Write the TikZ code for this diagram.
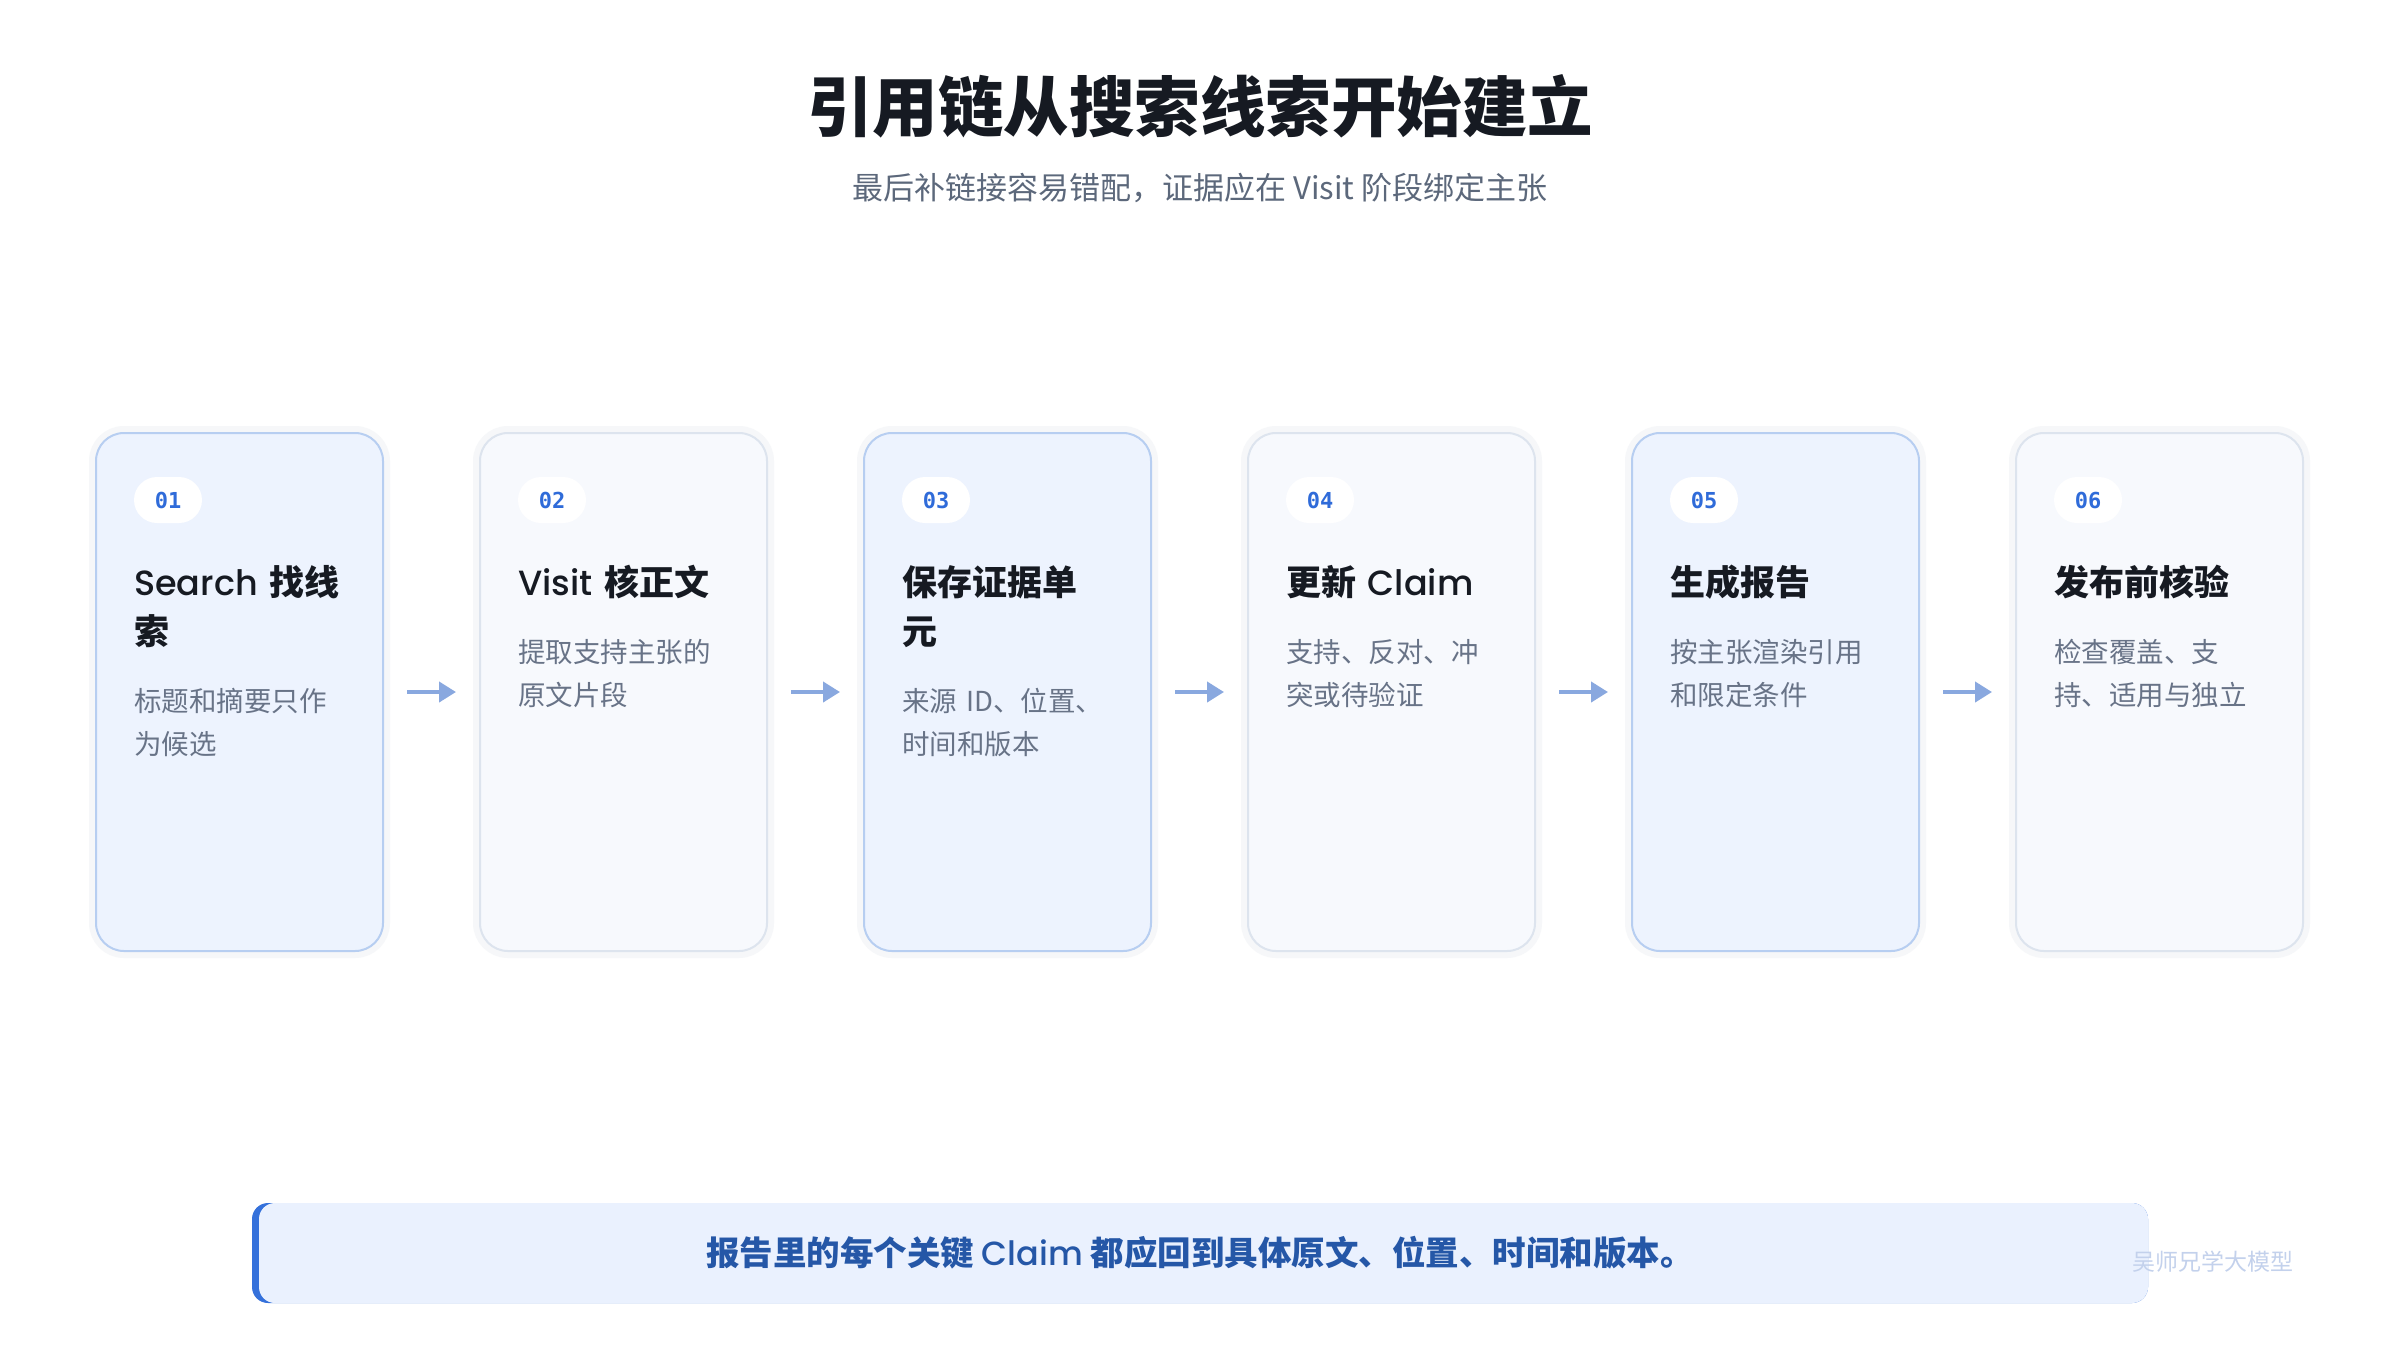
\documentclass[tikz,border=0pt]{standalone}
\usepackage{fontspec}
\setmainfont{Noto Sans CJK SC}
\newfontfamily\poppins{Poppins}[BoldFont={Poppins Medium}]
\newfontfamily\monofont{DejaVu Sans Mono}
\usetikzlibrary{arrows.meta}

\definecolor{ink}{HTML}{161A22}
\definecolor{subgray}{HTML}{5C687B}
\definecolor{descgray}{HTML}{687387}
\definecolor{numblue}{HTML}{2F6BD9}
\definecolor{hifill}{HTML}{EDF3FE}
\definecolor{hiline}{HTML}{B7CEF1}
\definecolor{cardfill}{HTML}{F7F9FD}
\definecolor{cardline}{HTML}{DDE4EE}
\definecolor{halo}{HTML}{F6F7F9}
\definecolor{arrowblue}{HTML}{89A8DF}
\definecolor{barblue}{HTML}{3571DB}
\definecolor{bannerfill}{HTML}{EAF1FE}
\definecolor{notetext}{HTML}{2557A7}
\definecolor{wmgray}{HTML}{C3D1EC}

\tikzset{
  card/.style={draw=cardline, line width=2pt, fill=cardfill, rounded corners=28pt,
    minimum width=287pt, minimum height=518pt, inner sep=0pt,
    preaction={draw=halo, line width=14pt}},
  hicard/.style={card, draw=hiline, fill=hifill},
  badge/.style={fill=white, rounded corners=23pt, minimum width=68pt, minimum height=46pt,
    inner sep=0pt, text=numblue, font=\monofont\bfseries\fontsize{22}{22}\selectfont},
  head/.style={anchor=base west, inner sep=0pt, align=left, text width=220pt, text=ink,
    font=\bfseries\fontsize{35}{49}\selectfont},
  desc/.style={anchor=base west, inner sep=0pt, align=left, text width=220pt, text=descgray,
    font=\fontsize{27.5}{43}\selectfont},
  flow/.style={draw=arrowblue, line width=4pt, -{Triangle[length=17pt,width=20pt]},
    shorten <=23pt, shorten >=23pt},
}

\begin{document}
\begin{tikzpicture}[x=1pt,y=-1pt]
\useasboundingbox (0,0) rectangle (2400,1350);
\fill[white] (0,0) rectangle (2400,1350);

% title
\node[anchor=base, inner sep=0pt, text=ink, font=\bfseries\fontsize{65.5}{65.5}\selectfont] (title) at (1200,131) {引用链从搜索线索开始建立};
\node[anchor=base, inner sep=0pt, text=subgray, font=\fontsize{31}{31}\selectfont] (subtitle) at (1200,199) {最后补链接容易错配，证据应在 Visit 阶段绑定主张};

% cards
\node[hicard] (c1) at (239.5,692) {};
\node[card]   (c2) at (623.5,692) {};
\node[hicard] (c3) at (1007.5,692) {};
\node[card]   (c4) at (1391.5,692) {};
\node[hicard] (c5) at (1775.5,692) {};
\node[card]   (c6) at (2159.5,692) {};

\node[badge] (n1) at (168,500) {01};
\node[badge] (n2) at (552,500) {02};
\node[badge] (n3) at (936,500) {03};
\node[badge] (n4) at (1320,500) {04};
\node[badge] (n5) at (1704,500) {05};
\node[badge] (n6) at (2088,500) {06};

\node[head] (h1) at (134,595) {{\poppins Search} 找线\\索};
\node[head] (h2) at (518,595) {{\poppins Visit} 核正文};
\node[head] (h3) at (902,595) {保存证据单\\元};
\node[head] (h4) at (1286,595) {更新 {\poppins Claim}};
\node[head] (h5) at (1670,595) {生成报告};
\node[head] (h6) at (2054,595) {发布前核验};

\node[desc] (d1) at (134,711) {标题和摘要只作\\为候选};
\node[desc] (d2) at (518,662) {提取支持主张的\\原文片段};
\node[desc] (d3) at (902,711) {来源 ID、位置、\\时间和版本};
\node[desc] (d4) at (1286,662) {支持、反对、冲\\突或待验证};
\node[desc] (d5) at (1670,662) {按主张渲染引用\\和限定条件};
\node[desc] (d6) at (2054,662) {检查覆盖、支\\持、适用与独立};

\draw[flow] (c1.east) -- (c2.west);
\draw[flow] (c2.east) -- (c3.west);
\draw[flow] (c3.east) -- (c4.west);
\draw[flow] (c4.east) -- (c5.west);
\draw[flow] (c5.east) -- (c6.west);

% banner
\fill[barblue, rounded corners=16pt] (252,1203) rectangle (2148,1303);
\fill[bannerfill, rounded corners=16pt] (259,1203) rectangle (2148,1303);
\node[anchor=base, inner sep=0pt, text=notetext, font=\bfseries\fontsize{33.5}{33.5}\selectfont] (note) at (1200,1265) {报告里的每个关键 {\poppins Claim} 都应回到具体原文、位置、时间和版本。};

\node[anchor=base, inner sep=0pt, text=wmgray, font=\fontsize{23}{23}\selectfont] (wmark) at (2213,1270) {吴师兄学大模型};
\end{tikzpicture}
\end{document}
